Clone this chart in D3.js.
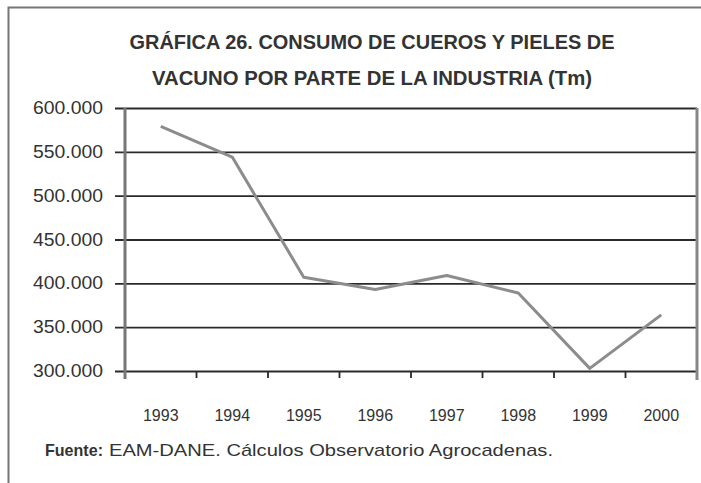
<!DOCTYPE html>
<html>
<head>
<meta charset="utf-8">
<script src="https://cdn.jsdelivr.net/npm/d3@7"></script>
<style>
  body { margin: 0; background: #fff; }
  svg { display: block; }
  text { font-family: "Liberation Sans", Arial, sans-serif; fill: #333; }
</style>
</head>
<body>
<svg width="701" height="483"></svg>
<script>
const years = ['1993', '1994', '1995', '1996', '1997', '1998', '1999', '2000']
const consumo = [579000, 544000, 407000, 393000, 409000, 389000, 303000, 364000]
const yTicks = [300000, 350000, 400000, 450000, 500000, 550000, 600000]
const titleLines = ['GRÁFICA 26. CONSUMO DE CUEROS Y PIELES DE', 'VACUNO POR PARTE DE LA INDUSTRIA (Tm)']

const svg = d3.select('svg')

const margin = {top: 108, right: 4, bottom: 112, left: 125}
const width = +svg.attr('width')
const height = +svg.attr('height')
const innerWidth = width - margin.left - margin.right
const innerHeight = height - margin.top - margin.bottom

// outer frame (only top and left visible)
svg.append('path')
    .attr('d', `M8.5,${height} V7.5 H${width}`)
    .attr('fill', 'none')
    .attr('stroke', '#777')
    .attr('stroke-width', 2)

// title, squeezed to look like the narrow font of the original
const titleWidths = [485, 440]
svg.append('g').selectAll('text')
    .data(titleLines)
    .enter().append('text')
        .text(d => d)
        .attr('x', 372)
        .attr('y', (d, i) => 49 + i * 36)
        .attr('text-anchor', 'middle')
        .attr('textLength', (d, i) => titleWidths[i])
        .attr('lengthAdjust', 'spacingAndGlyphs')
        .style('font-size', '20px')
        .style('font-weight', 'bold')

// scales in page coordinates
const xScale = d3.scaleBand()
    .domain(years)
    .range([margin.left, margin.left + innerWidth])

const yScale = d3.scaleLinear()
    .domain([300000, 600000])
    .range([margin.top + innerHeight, margin.top])

// gridlines (axis used for lines only, labels drawn below)
const fmt = d => d3.format(',.0f')(d).replace(/,/g, '.')
const yAxis = d3.axisLeft(yScale)
    .tickValues(yTicks)
    .tickFormat('')
    .tickSize(-innerWidth - 10)

const yg = svg.append('g')
    .attr('transform', `translate(${margin.left - 10},0)`)
    .call(yAxis)
yg.select('.domain').remove()
yg.selectAll('text').remove()
yg.selectAll('line')
    .attr('stroke', '#2a2a2a')
    .attr('stroke-width', 1.8)
    .attr('x1', innerWidth + 10)
    .attr('x2', 0)

// y labels
svg.append('g').selectAll('text')
    .data(yTicks)
    .enter().append('text')
        .text(fmt)
        .attr('x', margin.left - 22)
        .attr('y', d => yScale(d) + 6)
        .attr('text-anchor', 'end')
        .attr('textLength', 70)
        .attr('lengthAdjust', 'spacingAndGlyphs')
        .style('font-size', '18px')

// x labels
svg.append('g').selectAll('text')
    .data(years)
    .enter().append('text')
        .text(d => d)
        .attr('x', d => xScale(d) + xScale.bandwidth() / 2)
        .attr('y', margin.top + innerHeight + 50)
        .attr('text-anchor', 'middle')
        .style('font-size', '16px')

// category boundary ticks
svg.append('g').selectAll('line')
    .data(years.slice(1))
    .enter().append('line')
        .attr('x1', d => xScale(d))
        .attr('x2', d => xScale(d))
        .attr('y1', margin.top + innerHeight)
        .attr('y2', margin.top + innerHeight + 7)
        .attr('stroke', '#2a2a2a')
        .attr('stroke-width', 1.8)

// left axis line and right frame
svg.append('line')
    .attr('x1', margin.left).attr('x2', margin.left)
    .attr('y1', margin.top).attr('y2', margin.top + innerHeight + 8)
    .attr('stroke', '#777')
    .attr('stroke-width', 3)
svg.append('line')
    .attr('x1', margin.left + innerWidth).attr('x2', margin.left + innerWidth)
    .attr('y1', margin.top).attr('y2', margin.top + innerHeight + 9)
    .attr('stroke', '#888')
    .attr('stroke-width', 3)

// series line
const line = d3.line()
    .x((d, i) => xScale(years[i]) + xScale.bandwidth() / 2)
    .y(d => yScale(d))

svg.append('path')
    .datum(consumo)
    .attr('d', line)
    .attr('fill', 'none')
    .attr('stroke', '#8c8c8c')
    .attr('stroke-width', 3)
    .attr('stroke-linejoin', 'round')

// source
svg.append('text')
    .attr('x', 45)
    .attr('y', 456)
    .attr('textLength', 58)
    .attr('lengthAdjust', 'spacingAndGlyphs')
    .style('font-size', '17px')
    .style('font-weight', 'bold')
    .text('Fuente:')
svg.append('text')
    .attr('x', 109)
    .attr('y', 456)
    .attr('textLength', 444)
    .attr('lengthAdjust', 'spacingAndGlyphs')
    .style('font-size', '17px')
    .text('EAM-DANE.  Cálculos Observatorio Agrocadenas.')
</script>
</body>
</html>
